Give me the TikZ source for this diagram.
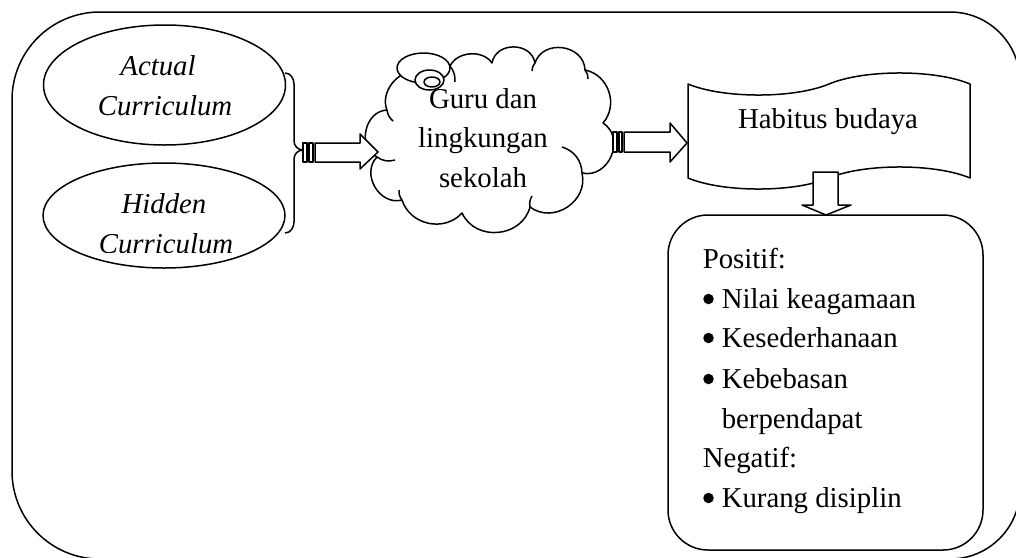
\documentclass[tikz,border=0pt]{standalone}
\usepackage{fontspec}
\setmainfont{Liberation Serif}
\usetikzlibrary{shapes.geometric}
\begin{document}
\begin{tikzpicture}[x=1pt,y=-1pt,line width=1.5pt,line join=round,
  txt/.style={font=\fontsize{28.8}{40}\selectfont,inner sep=0pt,anchor=base},
  itxt/.style={font=\fontsize{28.8}{40}\selectfont\itshape,inner sep=0pt,anchor=base},
  ltxt/.style={font=\fontsize{28.8}{40}\selectfont,inner sep=0pt,anchor=base west},
  dot/.style={circle,fill,inner sep=0pt,minimum size=10.5pt},
  oval/.style={draw,ellipse,inner sep=0pt,fill=white},
  blockarrow/.style={draw,fill=white},
  lobe/.style={bend left=#1,looseness=1.2}]
\useasboundingbox (0,0) rectangle (1016,557);
\clip (0,0) rectangle (1016,557);
% outer frame
\draw (12,100) to[out=90,in=180] (100,12) -- (950,12) to[out=0,in=90] (1020,82)
  -- (1020,489) to[out=-90,in=0] (950,559) -- (100,559) to[out=180,in=-90] (12,471) -- cycle;
% curriculum ellipses
\node[oval,minimum width=242pt,minimum height=120pt] (actual) at (164.5,85) {};
\node[oval,minimum width=242pt,minimum height=105pt] (hidden) at (164,215.5) {};
\node[itxt] (actual1) at (158,75) {Actual};
\node[itxt] (actual2) at (165,115) {Curriculum};
\node[itxt] (hidden1) at (164,213) {Hidden};
\begin{scope}
\clip (0,0) rectangle (1016,252);
\node[itxt] (hidden2) at (166,253) {Curriculum};
\end{scope}
% brace
\coordinate (bt) at (285,73);
\coordinate (bb) at (285,233);
\coordinate (btip) at (303,150);
\draw (bt) to[out=0,in=90] (294,84) -- (294,141) to[out=-90,in=180] (btip)
  to[out=180,in=90] (294,159) -- (294,222) to[out=-90,in=0] (bb);
% cloud
\coordinate (K0) at (416,72);
\coordinate (K1) at (450,66);
\coordinate (K2) at (492,63);
\coordinate (K3) at (535,63);
\coordinate (K4) at (585,70);
\coordinate (K5) at (603,123);
\coordinate (K6) at (582,173);
\coordinate (K7) at (530,207);
\coordinate (K8) at (462,213);
\coordinate (K9) at (402,200);
\coordinate (K10) at (377,157);
\coordinate (K11) at (387,110);
\draw[fill=white] (K1) to[bend left=60,looseness=1] (K2) to[bend left=80,looseness=1.3] (K3)
  to[bend left=80,looseness=1.3] (K4) to[bend left=60,looseness=1.1] (K5)
  to[bend left=80,looseness=1.3] (K6) to[lobe=70] (K7) to[lobe=70] (K8)
  to[bend left=60,looseness=1.1] (K9) to[lobe=75] (K10) to[lobe=75] (K11)
  to[bend left=60] (K0) to[bend left=40] (K1);
\draw (K10) to[bend right=25] (395,160);
\draw (562,147) to[bend left=35] (K6);
\draw (K7) to[bend left=20] (532,196);
\draw (K4) to[bend left=20] (588,79);
\draw (K3) to[bend right=20] (532,71);
\draw (K1) to[bend left=20] (455,82);
\draw (K9) to[bend left=20] (399,190);
\draw (K11) to[bend right=20] (393,121);
\node[oval,minimum width=53pt,minimum height=30pt] (bub1) at (423.5,68) {};
\node[oval,minimum width=29pt,minimum height=20pt] (bub2) at (429.5,80) {};
\node[oval,minimum width=16pt,minimum height=10pt] (bub3) at (432,82) {};
\node[txt] (guru1) at (483,108) {Guru dan};
\node[txt] (guru2) at (483,147) {lingkungan};
\node[txt] (guru3) at (483,187) {sekolah};
% arrow 1
\coordinate (a1) at (303,143);
\draw[blockarrow] (315,143) -- (360,143) -- (360,134) -- (378,152) -- (360,169) -- (360,162) -- (315,162) -- cycle;
\draw[blockarrow] (a1) rectangle (307,162);
\draw[blockarrow] (309,143) rectangle (313,162);
% habitus shape
\draw[fill=white] (688,84) .. controls (723,98.7) and (794,98.7) .. (829,84)
  .. controls (864,69.3) and (935,69.3) .. (970,84) -- (970,178)
  .. controls (935,163.3) and (864,163.3) .. (829,178)
  .. controls (794,192.7) and (723,192.7) .. (688,178) -- cycle;
\node[txt] (habitus) at (828,128) {Habitus budaya};
% arrow 2
\draw[blockarrow] (624,132) -- (670,132) -- (670,123) -- (687,143) -- (670,162) -- (670,152) -- (624,152) -- cycle;
\draw[blockarrow] (613,132) rectangle (617,152);
\draw[blockarrow] (619,132) rectangle (622,152);
% down arrow
\draw[blockarrow] (813,172) -- (838,172) -- (838,205) -- (851,205) -- (826,215) -- (802,205) -- (813,205) -- cycle;
% result box
\node[draw,fill=white,rounded corners=40pt,minimum width=315pt,minimum height=335pt] (res) at (825.5,382.5) {};
\node[ltxt] (pos) at (702,268) {Positif:};
\node[dot] (b1) at (708.5,299) {};
\node[ltxt] (t1) at (721,308) {Nilai keagamaan};
\node[dot] (b2) at (708.5,338) {};
\node[ltxt] (t2) at (721,347) {Kesederhanaan};
\node[dot] (b3) at (708.5,379) {};
\node[ltxt] (t3) at (721,388) {Kebebasan};
\node[ltxt] (t3b) at (721,428) {berpendapat};
\node[ltxt] (neg) at (702,467) {Negatif:};
\node[dot] (b4) at (708.5,498) {};
\node[ltxt] (t4) at (721,507) {Kurang disiplin};
\end{tikzpicture}
\end{document}
